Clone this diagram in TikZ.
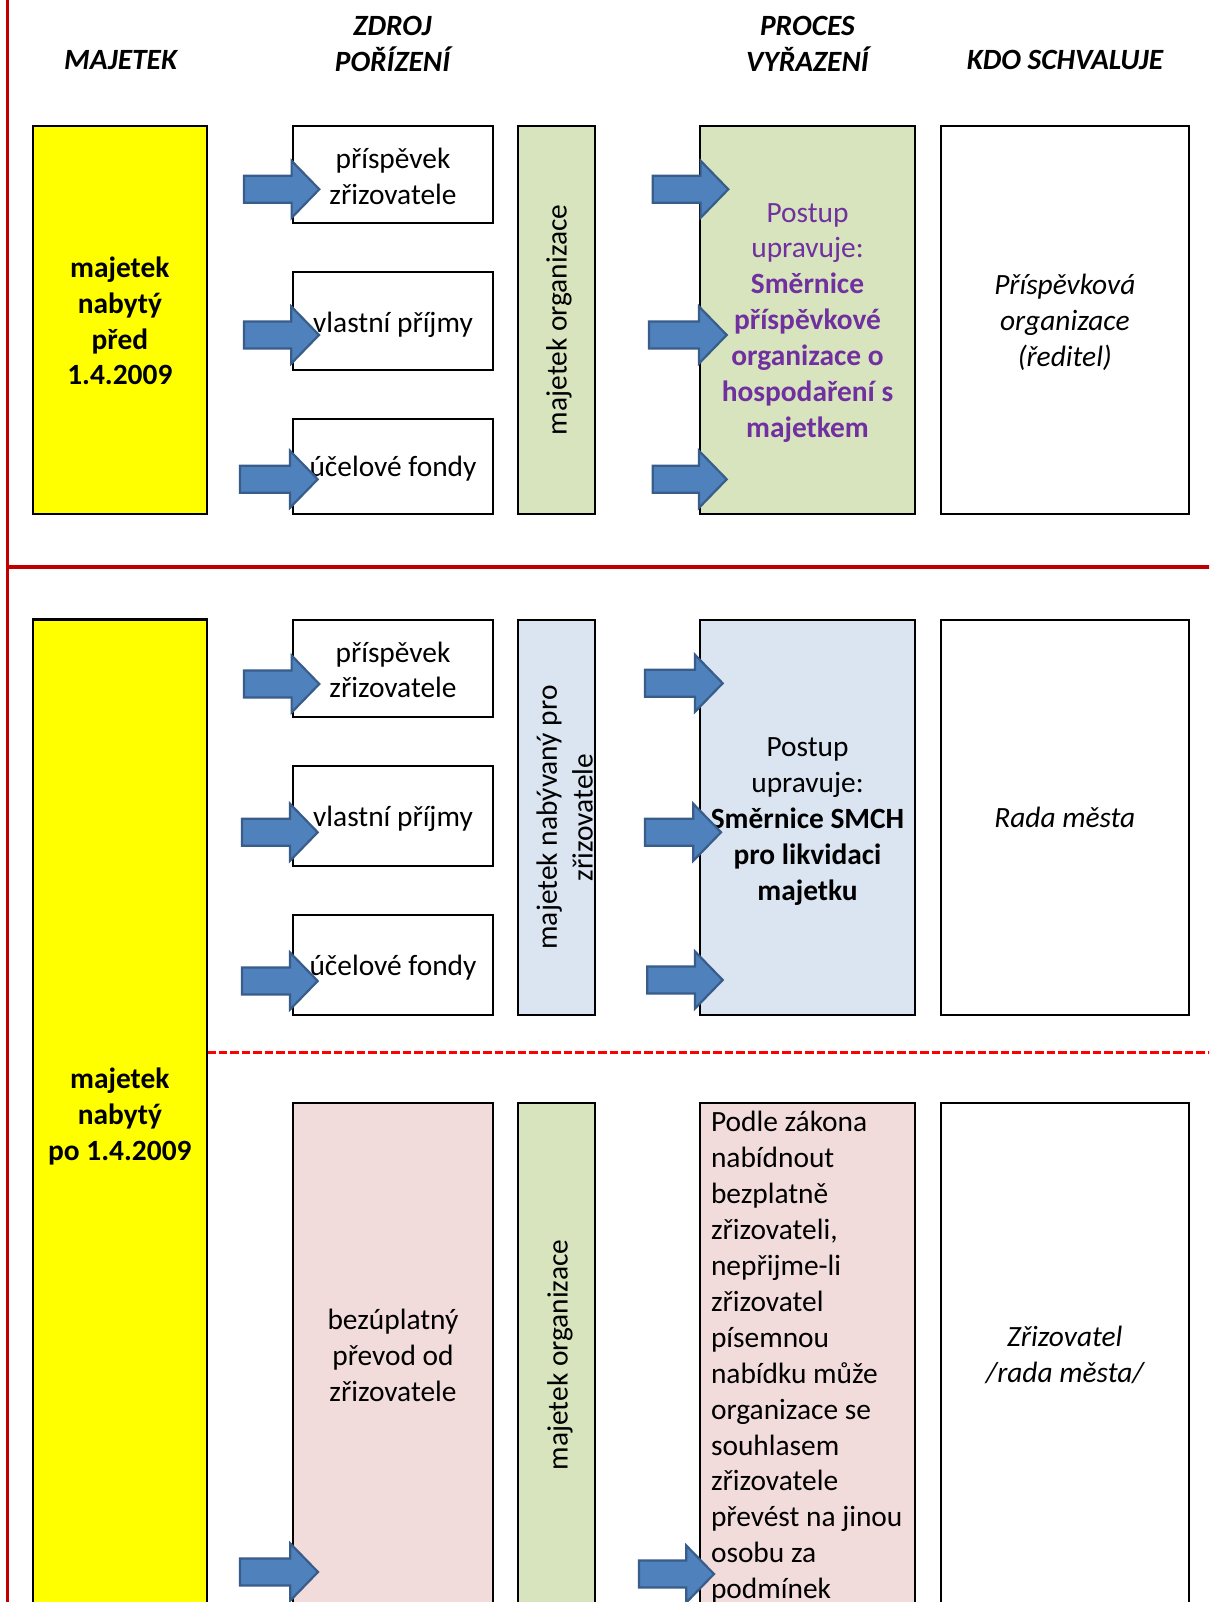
\documentclass[tikz,border=0pt]{standalone}
\usepackage{fontspec}
\setmainfont{Carlito}
\definecolor{ylw}{HTML}{FFFF00}
\definecolor{grn}{HTML}{D7E4BD}
\definecolor{blu}{HTML}{DBE5F1}
\definecolor{pnk}{HTML}{F2DCDB}
\definecolor{purp}{HTML}{7030A0}
\definecolor{arrfill}{HTML}{4F81BD}
\definecolor{arrdraw}{HTML}{385D8A}
\definecolor{dred}{HTML}{C00000}
\definecolor{bred}{HTML}{FF0000}
\newcommand{\dfnt}{\fontsize{29.4}{35.9}\selectfont}
\newcommand{\barrow}[3]{%
  \draw[arrsty] (#1,#3-13.5) -- (#2-27.7,#3-13.5) -- (#2-27.7,#3-28.5) -- (#2,#3)
    -- (#2-27.7,#3+28.5) -- (#2-27.7,#3+13.5) -- (#1,#3+13.5) -- cycle;}
\begin{document}
\begin{tikzpicture}[x=1pt,y=-1pt,
  every node/.style={font=\dfnt, inner sep=0pt, outer sep=0pt},
  boxsty/.style={draw=black, line width=2.2pt, rectangle},
  srcbox/.style={boxsty, fill=white, minimum width=200.6pt},
  vertbox/.style={boxsty, minimum width=77.3pt},
  procbox/.style={boxsty, minimum width=215pt},
  apprbox/.style={boxsty, fill=white, minimum width=248pt},
  yelbox/.style={boxsty, fill=ylw, minimum width=174.3pt},
  lbl/.style={align=center},
  boldlbl/.style={align=center, font=\dfnt\bfseries},
  itlbl/.style={align=center, font=\dfnt\itshape},
  head/.style={font=\dfnt\bfseries\itshape, align=center},
  arrsty/.style={fill=arrfill, draw=arrdraw, line width=2.2pt, line join=miter},
  vlabel/.style={rotate=90, align=center}
]
\useasboundingbox (0,0) rectangle (1209,1602);
\fill[white] (0,0) rectangle (1209,1602);
\clip (0,0) rectangle (1209,1602);

% headers
\node[head, anchor=base] (h1) at (120.6,70) {MAJETEK};
\node[head] (h2) at (392.5,44.2) {ZDROJ\\POŘÍZENÍ};
\node[head] (h3) at (807.4,44.2) {PROCES\\VYŘAZENÍ};
\node[head, anchor=base] (h4) at (1065,70) {KDO SCHVALUJE};

% red separators
\draw[dred, line width=3.4pt] (7.5,-5) -- (7.5,1610);
\draw[dred, line width=3.5pt] (7.5,567) -- (1215,567);
\draw[bred, line width=2.5pt, dash pattern=on 8.5pt off 3pt] (207,1052.3) -- (1215,1052.3);

% ---------- top section ----------
\node[yelbox, minimum height=388.3pt] (y1) at (119.85,319.85) {};
\node[boldlbl] (y1t) at ([yshift=-1pt]y1.center) {majetek\\nabytý\\před\\1.4.2009};
\node[srcbox, minimum height=97pt] (s1) at (393,174.2) {};
\node[lbl] (s1t) at ([yshift=-2pt]s1.center) {příspěvek\\zřizovatele};
\node[srcbox, minimum height=98pt] (s2) at (393,321) {};
\node[lbl] (s2t) at ([yshift=-4pt]s2.center) {vlastní příjmy};
\node[srcbox, minimum height=95pt] (s3) at (393,466.5) {};
\node[lbl] (s3t) at ([yshift=-2pt]s3.center) {účelové fondy};
\node[vertbox, fill=grn, minimum height=388.3pt] (v1) at (556.35,319.85) {};
\node[vlabel] (vl1) at (559,319.85) {majetek organizace};
\node[procbox, fill=grn, minimum height=388.3pt] (p1) at (807.5,319.85) {};
\node[lbl, text=purp] (p1t) at ([yshift=-3pt]p1.center)
  {Postup\\upravuje:\\\textbf{Směrnice}\\\textbf{příspěvkové}\\\textbf{organizace o}\\\textbf{hospodaření s}\\\textbf{majetkem}};
\node[apprbox, minimum height=388.3pt] (a1) at (1064.8,319.85) {};
\node[itlbl] (a1t) at ([yshift=-2.5pt]a1.center) {Příspěvková\\organizace\\(ředitel)};

% ---------- middle section ----------
\node[yelbox, minimum height=988.5pt] (y2) at (119.85,1113.75) {};
\node[boldlbl] (y2t) at ([yshift=-3pt]y2.center) {majetek\\nabytý\\po 1.4.2009};
\node[srcbox, minimum height=96.7pt] (s4) at (393,668.35) {};
\node[lbl] (s4t) at ([yshift=-1.5pt]s4.center) {příspěvek\\zřizovatele};
\node[srcbox, minimum height=100pt] (s5) at (393,815.7) {};
\node[lbl] (s5t) at ([yshift=-3pt]s5.center) {vlastní příjmy};
\node[srcbox, minimum height=100.3pt] (s6) at (393,964.85) {};
\node[lbl] (s6t) at ([yshift=-3pt]s6.center) {účelové fondy};
\node[vertbox, fill=blu, minimum height=395pt] (v2) at (556.35,817.5) {};
\node[vlabel] (vl2) at (564.6,817.5) {majetek nabývaný pro\\zřizovatele};
\node[procbox, fill=blu, minimum height=395pt] (p2) at (807.5,817.5) {};
\node[lbl] (p2t) at ([yshift=-4pt]p2.center)
  {Postup\\upravuje:\\\textbf{Směrnice SMCH}\\\textbf{pro likvidaci}\\\textbf{majetku}};
\node[apprbox, minimum height=395pt] (a2) at (1064.8,817.5) {};
\node[itlbl] (a2t) at (a2.center) {Rada města};

% ---------- lower section ----------
\node[srcbox, fill=pnk, minimum height=505.3pt] (s7) at (393,1355.35) {};
\node[lbl] (s7t) at (s7.center) {bezúplatný\\převod od\\zřizovatele};
\node[vertbox, fill=grn, minimum height=505.3pt] (v3) at (556.35,1355.35) {};
\node[vlabel] (vl3) at (560,1355) {majetek organizace};
\node[procbox, fill=pnk, minimum height=505.3pt] (p3) at (807.5,1355.35) {};
\node[anchor=north west, align=left] (p3t) at (711,1111.5)
  {Podle zákona\\nabídnout\\bezplatně\\zřizovateli,\\nepřijme-li\\zřizovatel\\písemnou\\nabídku může\\organizace se\\souhlasem\\zřizovatele\\převést na jinou\\osobu za\\podmínek};
\node[apprbox, minimum height=505.3pt] (a3) at (1064.8,1355.35) {};
\node[itlbl] (a3t) at (a3.center) {Zřizovatel\\/rada města/};

% ---------- arrows ----------
\barrow{244}{319.3}{189.3}
\barrow{244}{319}{335}
\barrow{240}{317.7}{479.3}
\barrow{652.7}{728.3}{189.3}
\barrow{649}{726.7}{335}
\barrow{652.7}{726.7}{479.3}
\barrow{244}{319.3}{684}
\barrow{242}{317.7}{832.3}
\barrow{242}{317.7}{981}
\barrow{645}{722.7}{683.3}
\barrow{645}{721}{832.3}
\barrow{647.3}{722.7}{980}
\barrow{240}{318}{1572}
\barrow{639}{714}{1574}
\end{tikzpicture}
\end{document}
